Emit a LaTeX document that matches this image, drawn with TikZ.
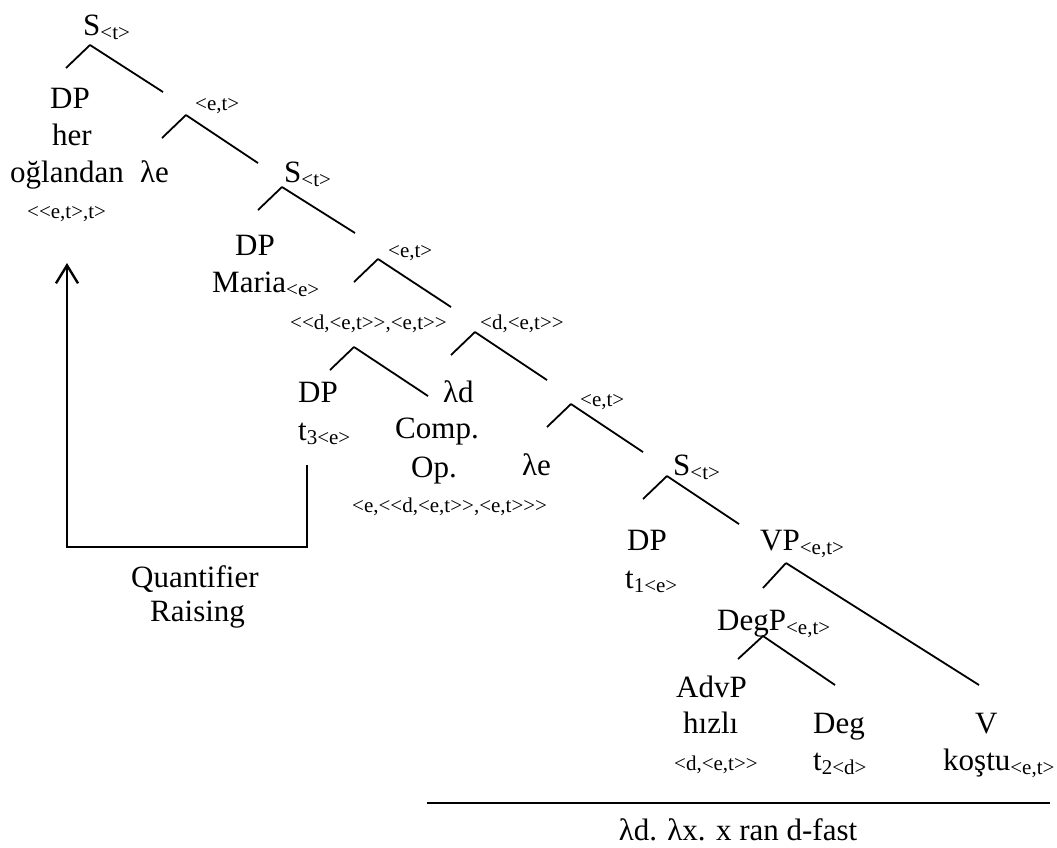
\documentclass[tikz,border=0pt]{standalone}
\usepackage{fontspec}
\setmainfont{Liberation Serif}[Ligatures=TeXOff]
\usetikzlibrary{arrows.meta}

\newcommand{\tsub}[1]{\raisebox{-4pt}{\fontsize{21}{21}\selectfont #1}}
\newcommand{\treefork}[3]{\draw[branch] (#1) -- +(-24,23) (#1) -- +(#2,#3);}

\begin{document}
\begin{tikzpicture}[x=1pt, y=-1pt, >={Straight Barb[length=18pt,width=22pt]},
    word/.style={anchor=base west, inner sep=0pt, font=\fontsize{31}{37}\selectfont},
    typ/.style={anchor=base west, inner sep=0pt, font=\fontsize{21}{21}\selectfont},
    branch/.style={line width=1.8pt},
    qrline/.style={line width=2.4pt}]
    \useasboundingbox (0,0) rectangle (1057,847);

    % ========== TOP: quantified DP ==========
    \node[word] (s0) at (83,35) {S\tsub{<t>}};
    \coordinate (f0) at (90,45);
    \treefork{f0}{73}{47}

    \node[word] (dp1) at (50,108) {DP};
    \node[word] (dp1her) at (52,145) {her};
    \node[word] (dp1ogl) at (10,182) {oğlandan};
    \node[typ] (dp1typ) at (27,218) {<<e,t>,t>};

    \node[typ] (et1) at (195,110) {<e,t>};
    \coordinate (f1) at (186,115);
    \treefork{f1}{72}{48}
    \node[word] (lam1) at (140,182) {λe};

    % ========== S with Maria ==========
    \node[word] (s1) at (284,182) {S\tsub{<t>}};
    \coordinate (f2) at (282,187);
    \treefork{f2}{73}{46}

    \node[word] (dp2) at (235,255) {DP};
    \node[word] (dp2maria) at (212,292) {Maria\tsub{<e>}};

    \node[typ] (et2) at (388,257) {<e,t>};
    \coordinate (f3) at (378,259);
    \treefork{f3}{73}{48}

    % ========== comparative operator ==========
    \node[typ] (ccomp) at (290,329) {<<d,<e,t>>,<e,t>>};
    \coordinate (f4) at (354,347);
    \treefork{f4}{74}{49}

    \node[word] (dp3) at (298,402) {DP};
    \node[word] (dp3t) at (298,440) {t\tsub{3<e>}};

    \node[word] (lamd) at (443,402) {λd};
    \node[word] (comp) at (395,438) {Comp.};
    \node[word] (op) at (411,477) {Op.};
    \node[typ] (optyp) at (352,512) {<e,<<d,<e,t>>,<e,t>>>};

    \node[typ] (det) at (480,329) {<d,<e,t>>};
    \coordinate (f5) at (475,332);
    \treefork{f5}{72}{48}

    \node[typ] (et3) at (580,406) {<e,t>};
    \coordinate (f6) at (571,404);
    \treefork{f6}{72}{48}
    \node[word] (lam2) at (522,475) {λe};

    % ========== lowest S ==========
    \node[word] (s2) at (673,475) {S\tsub{<t>}};
    \coordinate (f7) at (667,476);
    \treefork{f7}{72}{48}

    \node[word] (dp4) at (627,550) {DP};
    \node[word] (dp4t) at (625,588) {t\tsub{1<e>}};

    \node[word] (vp) at (760,550) {VP\tsub{<e,t>}};
    \coordinate (f8) at (786,563);
    \draw[branch] (f8) -- +(-23,25) (f8) -- +(193,122);

    \node[word] (degp) at (717,630) {DegP\tsub{<e,t>}};
    \coordinate (f9) at (763,636);
    \draw[branch] (f9) -- +(-25,23) (f9) -- +(72,49);

    \node[word] (advp) at (676,697) {AdvP};
    \node[word] (advhiz) at (683,733) {hızlı};
    \node[typ] (advtyp) at (674,770) {<d,<e,t>>};

    \node[word] (deg) at (813,733) {Deg};
    \node[word] (degt) at (813,770) {t\tsub{2<d>}};

    \node[word] (verb) at (975,733) {V};
    \node[word] (verbk) at (943,770) {koştu\tsub{<e,t>}};

    % ========== meaning of the lower VP ==========
    \coordinate (ruleL) at (427,803);
    \coordinate (ruleR) at (1050,803);
    \draw[line width=2.4pt] (ruleL) -- (ruleR);
    \node[word, anchor=base] (meaning) at (738,840) {λd. λx. x ran d-fast};

    % ========== QR arrow ==========
    \coordinate (qrfoot) at (307,465);
    \coordinate (qrhead) at (67,263);
    \draw[qrline, ->] (qrfoot) -- ++(0,82) -| (qrhead);
    \node[word] (qr1) at (131,587) {Quantifier};
    \node[word] (qr2) at (150,621) {Raising};

\end{tikzpicture}
\end{document}
